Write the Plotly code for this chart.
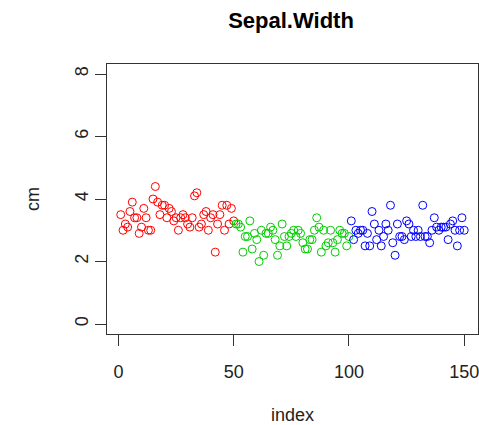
import plotly.graph_objects as go

setosa = [3.5,3.0,3.2,3.1,3.6,3.9,3.4,3.4,2.9,3.1,3.7,3.4,3.0,3.0,4.0,4.4,3.9,3.5,3.8,3.8,
          3.4,3.7,3.6,3.3,3.4,3.0,3.4,3.5,3.4,3.2,3.1,3.4,4.1,4.2,3.1,3.2,3.5,3.6,3.0,3.4,
          3.5,2.3,3.2,3.5,3.8,3.0,3.8,3.2,3.7,3.3]
versicolor = [3.2,3.2,3.1,2.3,2.8,2.8,3.3,2.4,2.9,2.7,2.0,3.0,2.2,2.9,2.9,3.1,3.0,2.7,2.2,2.5,
              3.2,2.8,2.5,2.8,2.9,3.0,2.8,3.0,2.9,2.6,2.4,2.4,2.7,2.7,3.0,3.4,3.1,2.3,3.0,2.5,
              2.6,3.0,2.6,2.3,2.7,3.0,2.9,2.9,2.5,2.8]
virginica = [3.3,2.7,3.0,2.9,3.0,3.0,2.5,2.9,2.5,3.6,3.2,2.7,3.0,2.5,2.8,3.2,3.0,3.8,2.6,2.2,
             3.2,2.8,2.8,2.7,3.3,3.2,2.8,3.0,2.8,3.0,2.8,3.8,2.8,2.8,2.6,3.0,3.4,3.1,3.0,3.1,
             3.1,3.1,2.7,3.2,3.3,3.0,2.5,3.0,3.4,3.0]
groups = [("setosa", setosa, "#FF0000"), ("versicolor", versicolor, "#00CD00"), ("virginica", virginica, "#0000FF")]

fig = go.Figure()
start = 1
for name, vals, col in groups:
    idx = list(range(start, start + len(vals)))
    start += len(vals)
    fig.add_trace(go.Scatter(x=idx, y=vals, mode="markers", name=name,
                             marker=dict(symbol="circle-open", size=8, color=col,
                                         line=dict(width=1, color=col))))

font = "Liberation Sans, Arial, sans-serif"
fig.update_layout(
    width=479, height=425, showlegend=False,
    plot_bgcolor="white", paper_bgcolor="white",
    margin=dict(l=107, r=1, t=64, b=91, autoexpand=False),
    font=dict(family=font, size=18, color="#222222"),
    title=dict(text="<b>Sepal.Width</b>", x=291/479, xanchor="center", y=1 - 20/425, yanchor="middle",
               font=dict(size=22, family=font, color="black")),
    annotations=[
        dict(text="index", xref="paper", yref="paper", x=0.5, y=0, xanchor="center", yanchor="middle",
             yshift=-81, showarrow=False, font=dict(size=18, color="#222222")),
        dict(text="cm", xref="paper", yref="paper", x=0, y=0.5, xanchor="center", yanchor="middle",
             xshift=-74, textangle=-90, showarrow=False, font=dict(size=18, color="#222222")),
    ],
)
fig.update_xaxes(range=[-4.96, 155.96], tickvals=[0, 50, 100, 150], showgrid=False, zeroline=False,
                 showline=True, mirror=True, linecolor="#333333", linewidth=1, automargin=False,
                 ticks="outside", ticklen=11, tickcolor="#333333", ticklabelstandoff=10,
                 ticklabeloverflow="allow")
fig.update_yaxes(range=[-0.32, 8.32], tickvals=[0, 2, 4, 6, 8], showgrid=False, zeroline=False,
                 showline=True, mirror=True, linecolor="#333333", linewidth=1, automargin=False,
                 ticks="outside", ticklen=11, tickcolor="#333333", tickangle=-90)

fig.write_html("out.html", config={"displayModeBar": False},
               post_script="document.body.style.margin='0';")
